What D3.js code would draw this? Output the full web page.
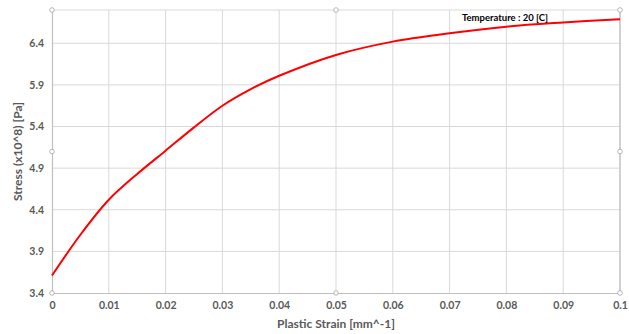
<!DOCTYPE html>
<html><head><meta charset="utf-8">
<script src="https://cdn.jsdelivr.net/npm/d3@7"></script>
<style>body{margin:0;background:#fff;} text{font-family:Lato, "Open Sans", sans-serif;}</style>
</head><body>
<svg id="c" width="629" height="334"></svg>
<script>
const strain = [0, 0.005, 0.01, 0.015, 0.02, 0.025, 0.03, 0.035, 0.04, 0.05, 0.06, 0.07, 0.08, 0.09, 0.1];
const stress = [3.61, 4.10, 4.52, 4.83, 5.11, 5.39, 5.65, 5.85, 6.01, 6.26, 6.42, 6.52, 6.60, 6.65, 6.69];
const xTicks = [0, 0.01, 0.02, 0.03, 0.04, 0.05, 0.06, 0.07, 0.08, 0.09, 0.1];
const yTicks = [3.4, 3.9, 4.4, 4.9, 5.4, 5.9, 6.4];
const xTitle = "Plastic Strain [mm^-1]";
const yTitle = "Stress (x10^8) [Pa]";
const note = "Temperature : 20 [C]";

const svg = d3.select("#c");
const L = 52, R = 620, T = 10, B = 293;
const x = d3.scaleLinear().domain([0, 0.1]).range([L, R]);
const y = d3.scaleLinear().domain([3.4, 6.8]).range([B, T]);
const grid = "#d9d9d9", axisC = "#bfbfbf", txt = "#595959";

// gridlines
svg.append("g").selectAll("line").data(xTicks.slice(1)).join("line")
  .attr("x1", d => x(d)).attr("x2", d => x(d)).attr("y1", T).attr("y2", B)
  .attr("stroke", grid).attr("stroke-width", 1);
svg.append("g").selectAll("line").data(yTicks.slice(1).concat([6.8])).join("line")
  .attr("x1", L).attr("x2", R).attr("y1", d => y(d)).attr("y2", d => y(d))
  .attr("stroke", grid).attr("stroke-width", 1);

// axes
const xa = svg.append("g").attr("transform", `translate(0,${B})`)
  .call(d3.axisBottom(x).tickValues(xTicks).tickSize(0).tickPadding(9).tickFormat(d => d3.format("")(+d.toFixed(2))));
const ya = svg.append("g").attr("transform", `translate(${L},0)`)
  .call(d3.axisLeft(y).tickValues(yTicks).tickSize(0).tickPadding(8).tickFormat(d3.format(".1f")));
[xa, ya].forEach(a => {
  a.select(".domain").attr("stroke", axisC).attr("stroke-width", 1.2);
  a.selectAll("text").attr("fill", txt).attr("font-size", 10.5).attr("font-weight", "bold").attr("font-family", "Lato, sans-serif");
});
// right border
svg.append("line").attr("x1", R).attr("x2", R).attr("y1", T).attr("y2", B).attr("stroke", axisC).attr("stroke-width", 1.2);

// curve
svg.append("path").datum(strain.map((s, i) => [s, stress[i]]))
  .attr("fill", "none").attr("stroke", "#ff0000").attr("stroke-width", 2)
  .attr("d", d3.line().x(d => x(d[0])).y(d => y(d[1])).curve(d3.curveCatmullRom.alpha(0.5)));

// handles
const hx = [L, (L + R) / 2, R], hy = [T, (T + B) / 2, B];
const handles = [];
hx.forEach(a => hy.forEach(b => { if (!(a === (L + R) / 2 && b === (T + B) / 2)) handles.push([a, b]); }));
svg.append("g").selectAll("circle").data(handles).join("circle")
  .attr("cx", d => d[0]).attr("cy", d => d[1]).attr("r", 2.3)
  .attr("fill", "#fff").attr("stroke", "#a6a6a6").attr("stroke-width", 0.8);

// titles
svg.append("text").attr("x", (L + R) / 2).attr("y", 328).attr("text-anchor", "middle")
  .attr("fill", txt).attr("font-size", 12).attr("font-weight", "bold").text(xTitle);
svg.append("text").attr("transform", `translate(22,${(T + B) / 2}) rotate(-90)`).attr("text-anchor", "middle")
  .attr("fill", txt).attr("font-size", 12).attr("font-weight", "bold").text(yTitle);
svg.append("text").attr("x", 505).attr("y", 21).attr("text-anchor", "middle")
  .attr("fill", "#000").attr("font-size", 9.5).attr("font-weight", "bold").text(note);
</script>
</body></html>
